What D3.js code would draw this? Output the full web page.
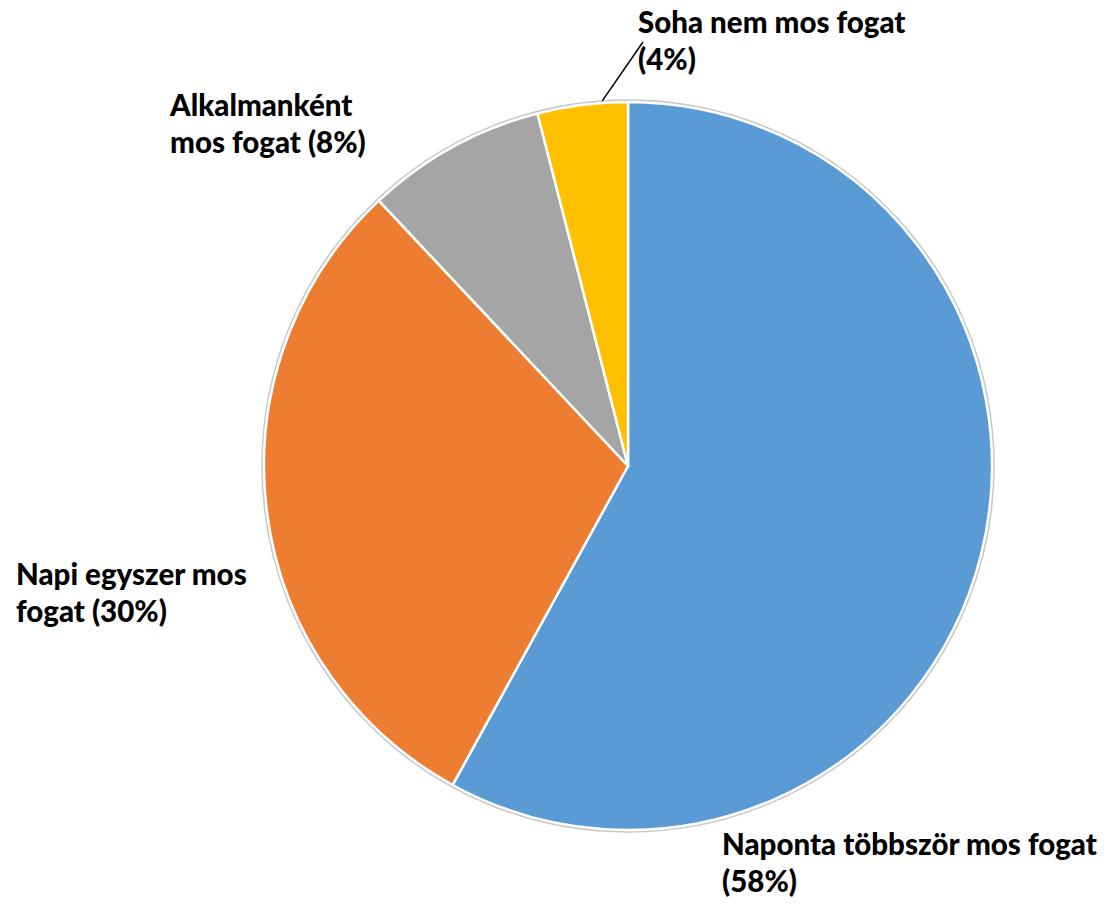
<!DOCTYPE html>
<html><head><meta charset="utf-8">
<script src="https://cdn.jsdelivr.net/npm/d3@7"></script>
<style>html,body{margin:0;padding:0;background:#fff;}</style>
</head><body>
<svg id="chart" width="1107" height="906"></svg>
<script>
const categories = ["Naponta többször mos fogat", "Napi egyszer mos fogat", "Alkalmanként mos fogat", "Soha nem mos fogat"];
const values = [58, 30, 8, 4];
const colors = ["#5B9BD5", "#ED7D31", "#A5A5A5", "#FFC000"];
const labelLines = [
  ["Naponta többször mos fogat", "(58%)"],
  ["Napi egyszer mos", "fogat (30%)"],
  ["Alkalmanként", "mos fogat (8%)"],
  ["Soha nem mos fogat", "(4%)"]
];
const labelPos = [[722, 855], [16, 585], [170, 116], [638, 33]];

const svg = d3.select("#chart");
const cx = 628, cy = 466, r = 364;
const g = svg.append("g").attr("transform", `translate(${cx},${cy})`);

const pie = d3.pie().sort(null).value(d => d)(values);
const arc = d3.arc().innerRadius(0).outerRadius(r);

g.append("circle").attr("r", r + 1.5).attr("fill", "none").attr("stroke", "#c8c8c8").attr("stroke-width", 2.5);
g.selectAll("path.slice").data(pie).enter().append("path")
  .attr("class", "slice")
  .attr("d", arc)
  .attr("fill", (d, i) => colors[i])
  .attr("stroke", "#fff").attr("stroke-width", 2.5).attr("stroke-linejoin", "round");

const small = pie[3];
const leadA = small.startAngle + 0.72 * (small.endAngle - small.startAngle);
const outerPt = [cx + Math.sin(leadA) * (r + 2), cy - Math.cos(leadA) * (r + 2)];
svg.append("line").attr("x1", outerPt[0]).attr("y1", outerPt[1])
  .attr("x2", 643).attr("y2", 42).attr("stroke", "#000").attr("stroke-width", 1.5);

const fontFamily = "Lato, 'Open Sans', sans-serif";
const probe = svg.append("text").attr("font-family", fontFamily).attr("font-weight", 900)
  .attr("font-size", 26).text(labelLines[0][0]);
const w = probe.node().getComputedTextLength();
probe.remove();
const fs = Math.min(30, 26 * 375 / w);

labelLines.forEach((lines, i) => {
  const t = svg.append("text").attr("x", labelPos[i][0]).attr("y", labelPos[i][1])
    .attr("font-family", fontFamily).attr("font-weight", 900)
    .attr("font-size", fs).attr("fill", "#000");
  lines.forEach((l, j) => t.append("tspan").attr("x", labelPos[i][0]).attr("dy", j === 0 ? 0 : 37).text(l));
});
</script>
</body></html>
